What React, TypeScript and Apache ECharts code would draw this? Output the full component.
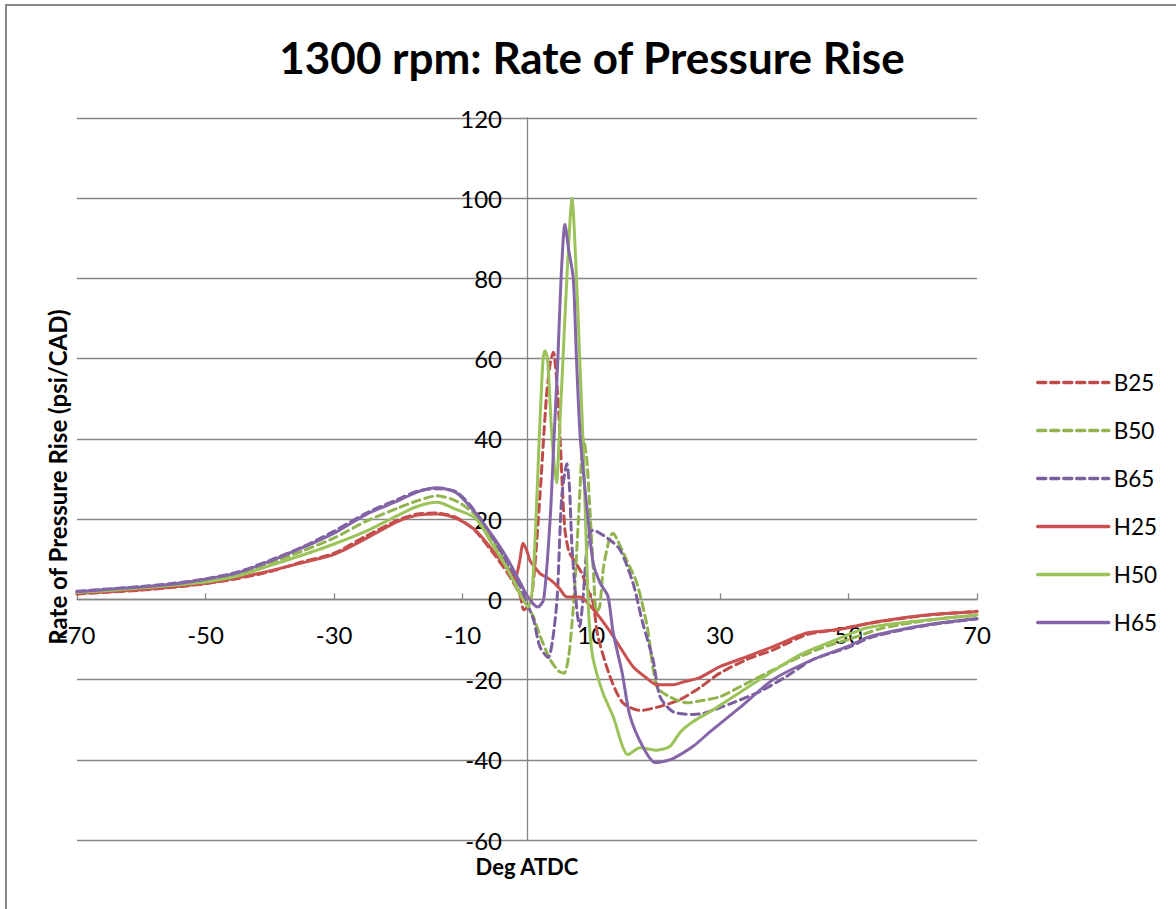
import React, { useEffect, useRef } from 'react';
import * as echarts from 'echarts';

const titleText = '1300 rpm: Rate of Pressure Rise';
const xTitle = 'Deg ATDC';
const yTitle = 'Rate of Pressure Rise (psi/CAD)';
const xTickValues = [-70, -50, -30, -10, 10, 30, 50, 70];
const yMin = -60;
const yMax = 120;
const yStep = 20;

const b25X = [-70, -65, -60, -55, -50, -45, -40, -35, -30, -25, -20, -17, -14, -11, -8, -5, -3, -1.1, -0.5, 0.5, 1.2, 2, 3, 3.6, 4.1, 4.6, 5.1, 5.5, 5.9, 6.5, 7.2, 8.5, 9.3, 10.3, 11, 12.9, 14.9, 17.6, 20.7, 23.8, 26.9, 30, 34.2, 38.3, 43.5, 48, 54, 62, 70];
const b25Y = [1.3, 1.8, 2.3, 3.0, 3.9, 5.2, 6.9, 9.3, 11.5, 15.8, 19.8, 21.3, 21.5, 20.4, 17, 11, 6.5, 1.1, -2.6, -1, 8, 25.5, 50, 58.8, 61.6, 55, 42, 28, 17.3, 12, 10, 6.6, 3, -1, -9, -19.2, -25.8, -27.7, -26.7, -25, -22, -18.4, -15, -12.6, -8.8, -7.6, -5.8, -4, -3];

const b50X = [-70, -65, -60, -55, -50, -45, -40, -35, -30, -25, -20, -17, -14, -11, -8, -5, -3, -1, 0, 1, 2, 3.6, 5, 5.8, 6.5, 7, 7.5, 8, 8.8, 9.3, 9.8, 10.3, 10.8, 11.3, 11.9, 12.9, 13.4, 14, 15.5, 17.1, 18.7, 20.2, 22.2, 24.9, 27, 30, 34.2, 38.3, 42.5, 46, 50, 55, 60, 65, 70];
const b50Y = [1.8, 2.3, 3.0, 3.8, 4.8, 6.3, 9, 12, 15.3, 19.5, 22.8, 24.6, 25.8, 24.5, 21, 14, 8, 1.5, -1.5, -4.4, -9, -15, -18, -18.4, -14, -6, 5, 20, 40, 35, 22, 8, -3, -2, 8, 15.6, 16.5, 15, 9.8, 4, -6.8, -21.8, -24.3, -25.8, -25.3, -24.3, -20.9, -17.6, -14.3, -12, -10, -7.3, -5.8, -4.7, -4];

const b65X = [-70, -65, -60, -55, -50, -45, -40, -35, -30, -25, -20, -17, -14, -11, -8, -5, -3, -1, 0, 1, 2, 3.3, 4, 4.7, 5.4, 6.2, 6.6, 7, 7.8, 8.2, 8.7, 9.5, 10.3, 11, 12.9, 14.5, 16.5, 18, 19.6, 20.7, 22.7, 25.8, 27.5, 32, 36.2, 40.4, 44.5, 50, 53.3, 59.6, 64.7, 70];
const b65Y = [2, 2.6, 3.2, 4, 5.1, 6.8, 9.7, 13, 17, 21.5, 25, 27, 27.6, 26.8, 21.8, 14.5, 9, 3, -1, -5, -11.8, -14.5, -10, 0.6, 25.5, 33.8, 28, 13, -3.4, -6.8, 0, 15.5, 17.3, 16.8, 14.8, 12.3, 4, -5.9, -15, -24.3, -28, -28.7, -28.4, -25.8, -23, -19.2, -15, -12, -9.6, -7.2, -5.9, -4.9];

const h25X = [-70, -65, -60, -55, -50, -45, -40, -35, -30, -25, -20, -17, -14, -11, -8, -5, -3, -1.9, -1.2, -0.6, 0, 0.5, 1, 2, 3.6, 5, 6.2, 8.2, 10.3, 12.9, 14.5, 16.5, 18.5, 20.2, 22.7, 24.5, 26.9, 30, 34.2, 38.3, 43.5, 48.2, 54.4, 62.2, 70];
const h25Y = [1.5, 1.9, 2.4, 3.1, 4.0, 5.4, 7.1, 9.1, 11.2, 15.2, 19.5, 21, 21.3, 20.2, 17.2, 11.5, 7.5, 4.9, 9, 14, 12, 9.5, 8.5, 6.5, 4.9, 2.8, 0.6, 0.6, -2.5, -8, -12, -16.8, -19.5, -21.3, -21.3, -20.5, -19.5, -16.8, -14.3, -11.8, -8.4, -7.6, -5.6, -3.9, -3.1];

const h50X = [-70, -65, -60, -55, -50, -45, -40, -35, -30, -25, -20, -17, -14, -11, -8, -5.5, -3, -1, 0.2, 0.8, 1.4, 1.9, 2.5, 2.8, 3.2, 3.9, 4.6, 5.0, 5.6, 6.2, 7.0, 7.7, 8.2, 8.7, 9.1, 9.5, 9.8, 10.3, 11.8, 13.4, 15.7, 17.6, 20.2, 22.2, 23.9, 25.8, 29, 36.2, 42.5, 48.2, 52.9, 59.6, 70];
const h50Y = [1.7, 2.2, 2.8, 3.5, 4.3, 5.8, 8.4, 11, 13.8, 17, 21, 23.2, 24.2, 22.4, 20.2, 14, 7.4, 1, -1.9, 2, 20, 40, 60, 62, 60, 40, 29, 40, 60, 80, 100, 80, 60, 40, 20, 0, -8.4, -15, -23.3, -29.2, -38.7, -37, -37.6, -36.7, -33, -30.5, -27.5, -20, -13.8, -10, -7.1, -5.6, -3.9];

const h65X = [-70, -65, -60, -55, -50, -45, -40, -35, -30, -25, -20, -17, -14, -11, -8, -5, -3, -1, 0, 1, 1.7, 2.6, 3.6, 4.2, 4.8, 5.3, 5.9, 6.5, 7.2, 7.7, 8.3, 9.5, 10.3, 11.4, 12.6, 13.4, 14.8, 16, 18, 19.9, 21, 22.7, 25.8, 28.5, 33.1, 38.3, 44.5, 49.8, 53.3, 59.6, 64.7, 70];
const h65Y = [1.9, 2.5, 3.1, 3.8, 5.0, 6.6, 9.5, 12.8, 16.5, 21.2, 24.6, 26.8, 27.8, 26.6, 21.5, 15, 10, 4, 1, -1.2, -1.9, 0, 20, 40, 60, 80, 93.5, 87, 80, 60, 40, 20, 9, 4, 0.7, -8.3, -18.3, -29, -36.7, -40.7, -40.5, -39.7, -36.7, -33, -27, -20, -15, -11.8, -9.3, -7.1, -5.8, -4.8];

const seriesNames = ['B25', 'B50', 'B65', 'H25', 'H50', 'H65'];
const seriesX = [b25X, b50X, b65X, h25X, h50X, h65X];
const seriesY = [b25Y, b50Y, b65Y, h25Y, h50Y, h65Y];
const seriesColors = ['#BE4B48', '#92B44F', '#7B5E9E', '#C9504F', '#9CC35A', '#8465A8'];
const seriesDashed = [true, true, true, false, false, false];

const FONT = 'Lato, "Open Sans", sans-serif';

const GRID_LEFT = 77;
const GRID_TOP = 118;
const GRID_W = 900;
const GRID_H = 722;
const X_MIN = -70;
const X_MAX = 70;

export default function App() {
  const ref = useRef<HTMLDivElement>(null);
  useEffect(() => {
    const chart = echarts.init(ref.current!, null, { renderer: 'svg' });
    const zeroYOffset = -(GRID_H * (0 - yMin)) / (yMax - yMin);
    const zeroXOffset = -(GRID_W * (0 - X_MIN)) / (X_MAX - X_MIN);
    const series = seriesNames.map((name, i) => ({
      name,
      type: 'line',
      data: seriesX[i].map((x, j) => [x, seriesY[i][j]]),
      symbol: 'none',
      showSymbol: false,
      smooth: 0.25,
      lineStyle: {
        color: seriesColors[i],
        width: 3,
        type: seriesDashed[i] ? [8, 5] : 'solid',
        cap: 'round',
      },
      itemStyle: { color: seriesColors[i] },
    }));
    chart.setOption({
      animation: false,
      backgroundColor: '#ffffff',
      textStyle: { fontFamily: FONT },
      grid: { left: GRID_LEFT, top: GRID_TOP, width: GRID_W, height: GRID_H },
      legend: {
        orient: 'vertical',
        left: 1031,
        top: 366,
        itemWidth: 71,
        itemHeight: 14,
        itemGap: 25,
        itemStyle: { color: 'transparent', borderWidth: 0, opacity: 0 },
        lineStyle: { width: 3.5 },
        textStyle: { fontFamily: FONT, fontSize: 22.5, color: '#000' },
        data: seriesNames,
      },
      xAxis: {
        type: 'value',
        min: X_MIN,
        max: X_MAX,
        interval: 10,
        position: 'bottom',
        offset: zeroYOffset,
        axisLine: { onZero: false, lineStyle: { color: '#868686', width: 1.3 } },
        axisTick: { show: true, inside: true, length: 6, customValues: xTickValues, lineStyle: { color: '#868686', width: 1.3 } },
        axisLabel: { customValues: xTickValues, fontSize: 24, color: '#000', margin: 23, fontFamily: FONT },
        splitLine: { show: false },
      },
      yAxis: {
        type: 'value',
        min: yMin,
        max: yMax,
        interval: yStep,
        position: 'left',
        offset: zeroXOffset,
        axisLine: { onZero: false, lineStyle: { color: '#868686', width: 1.3 } },
        axisTick: { show: false },
        axisLabel: { fontSize: 24, color: '#000', margin: 25, fontFamily: FONT },
        splitLine: { show: true, lineStyle: { color: '#868686', width: 1.3 } },
      },
      series,
      graphic: [
        {
          type: 'rect',
          shape: { x: 6, y: 5, width: 1200, height: 950 },
          style: { fill: 'none', stroke: '#868686', lineWidth: 2 },
          silent: true,
        },
        {
          type: 'text',
          x: 592,
          y: 57,
          style: { text: titleText, fontFamily: FONT, fontSize: 44, fontWeight: 'bold', fill: '#000', textAlign: 'center', textVerticalAlign: 'middle' },
        },
        {
          type: 'text',
          x: 527,
          y: 866,
          style: { text: xTitle, fontFamily: FONT, fontSize: 22, fontWeight: 'bold', fill: '#000', textAlign: 'center', textVerticalAlign: 'middle' },
        },
        {
          type: 'text',
          x: 57,
          y: 477,
          rotation: Math.PI / 2,
          style: { text: yTitle, fontFamily: FONT, fontSize: 24, fontWeight: 'bold', fill: '#000', textAlign: 'center', textVerticalAlign: 'middle' },
        },
      ],
    });
    return () => chart.dispose();
  }, []);
  return (
    <div
      ref={ref}
      style={{ position: 'fixed', left: 0, top: 0, width: 1176, height: 909, background: '#fff' }}
    />
  );
}
